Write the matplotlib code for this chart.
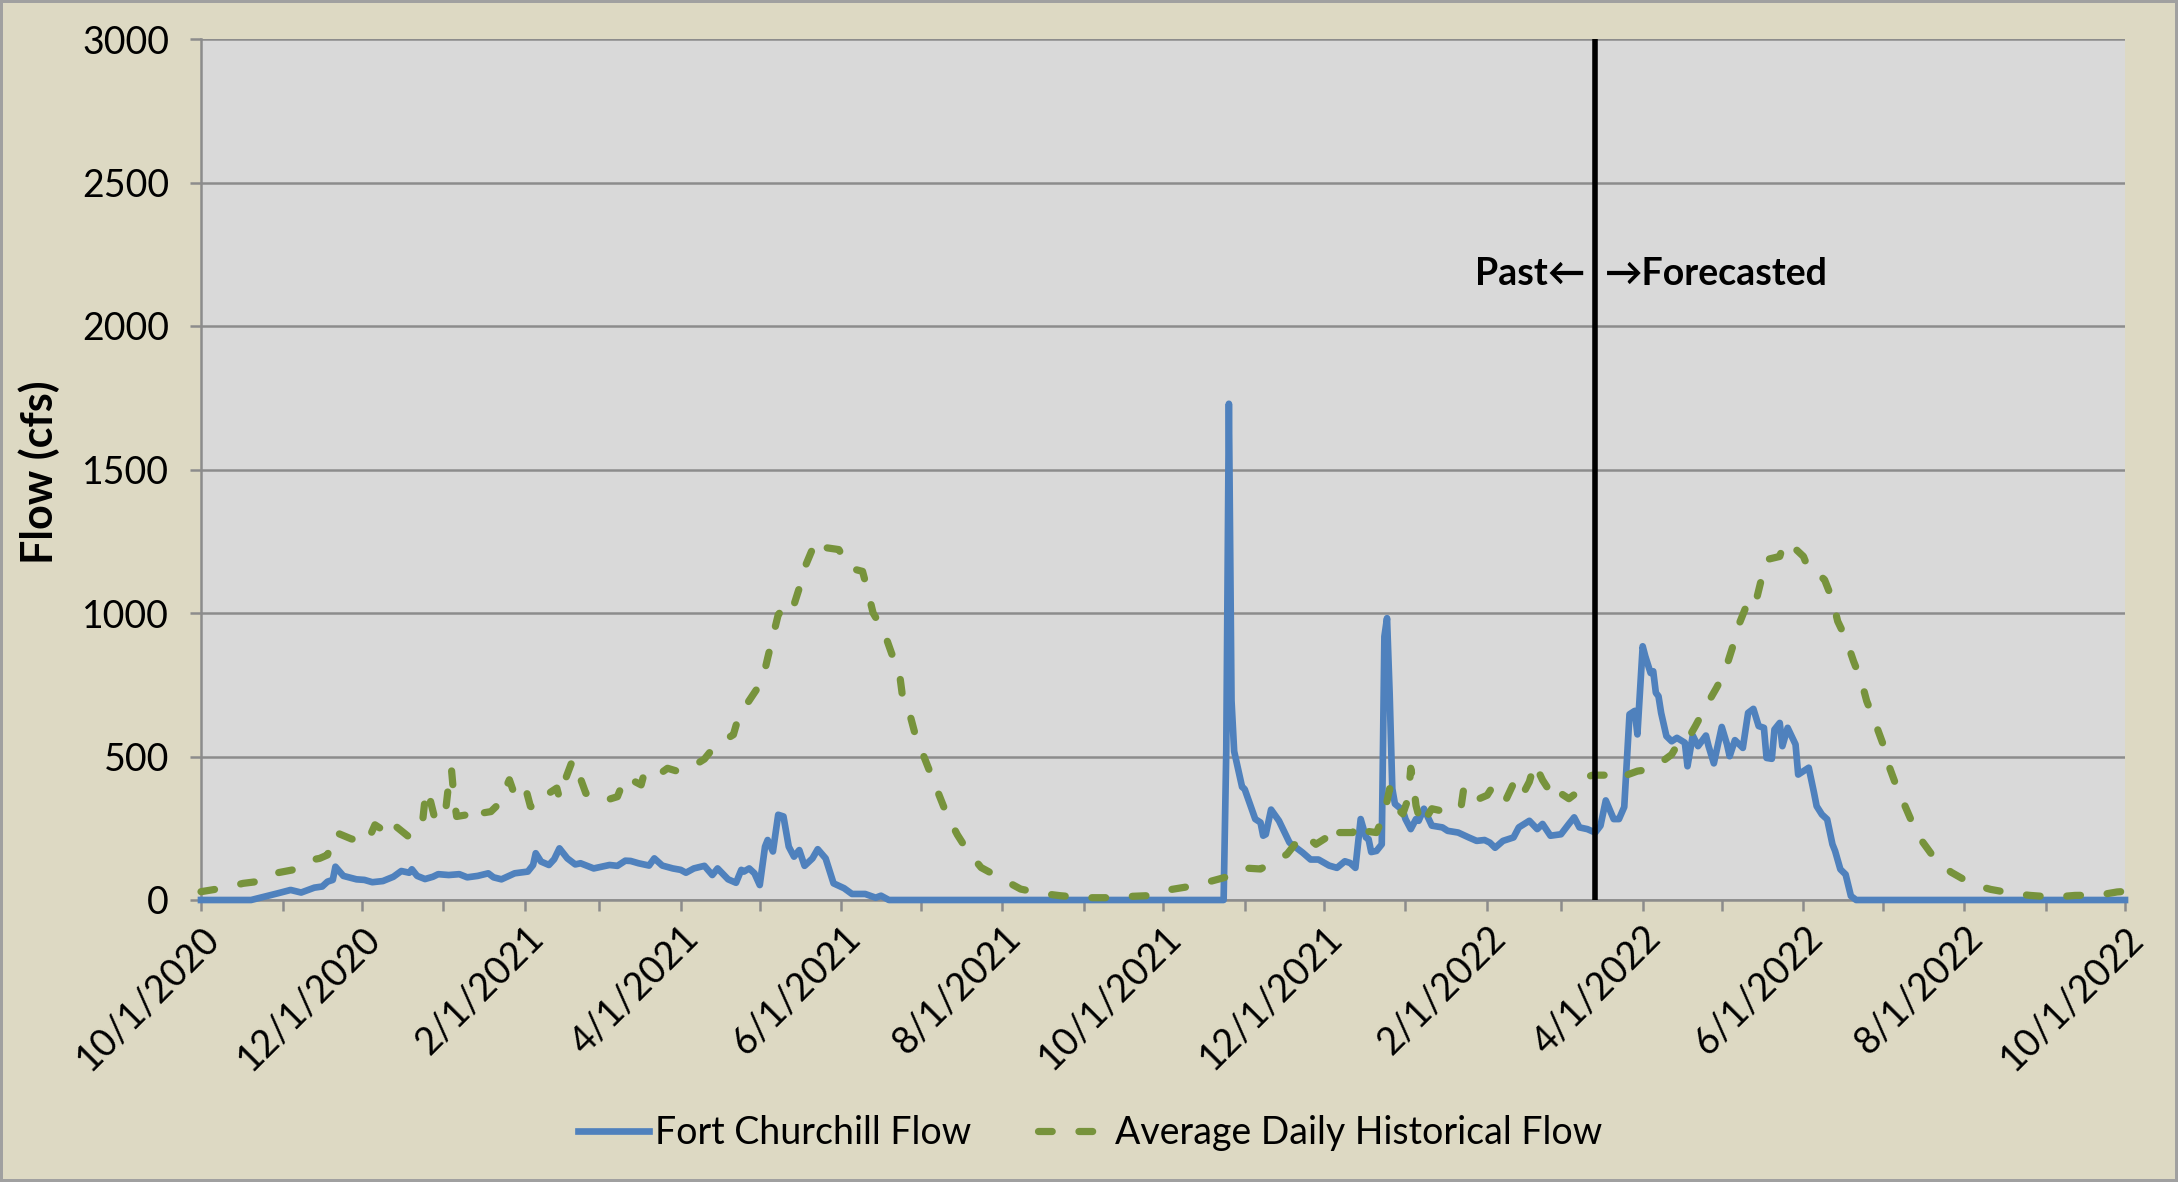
import matplotlib
matplotlib.use('Agg')
import matplotlib.pyplot as plt
import matplotlib.dates as mdates
import pandas as pd
from matplotlib.ticker import MultipleLocator, FuncFormatter

plt.rcParams['font.family'] = ['Lato', 'DejaVu Sans']

start = pd.Timestamp('2020-10-01')
end = pd.Timestamp('2022-10-01')
split_day = 529  # 3/14/2022, past / forecast split

# Fort Churchill flow: days after 10/1/2020, cfs
churchill_day = [0, 19, 29, 34, 38, 43, 46, 48, 50, 51, 54, 59, 62, 65, 69, 73, 76, 79, 80, 82,
                 85, 88, 90, 94, 98, 101, 105, 109, 111, 114, 119, 124, 126, 127, 129, 132, 134, 136, 139, 142,
                 144, 149, 155, 158, 161, 163, 166, 170, 172, 175, 179, 182, 184, 187, 191, 194, 196, 200, 203, 205,
                 206, 208, 210, 212, 214, 215, 217, 219, 221, 223, 225, 227, 229, 232, 234, 237, 240, 244, 247, 252,
                 256, 258, 261, 388, 389, 390, 391, 392, 395, 396, 400, 402, 403, 404, 406, 409, 413, 418, 421, 424,
                 428, 431, 434, 436, 438, 440, 442, 443, 444, 446, 448, 449, 450, 451, 452, 453, 456, 457, 459, 461,
                 462, 464, 467, 471, 473, 477, 481, 484, 487, 489, 491, 494, 498, 500, 504, 507, 509, 512, 516, 519,
                 521, 523, 526, 529, 531, 533, 536, 538, 540, 542, 544, 545, 547, 548, 550, 551, 552, 553, 554, 556,
                 558, 560, 563, 564, 566, 568, 571, 572, 574, 577, 579, 580, 582, 585, 587, 589, 591, 593, 594, 596,
                 597, 599, 600, 602, 605, 606, 608, 610, 612, 613, 615, 617, 619, 620, 622, 624, 626, 628, 730]
churchill_cfs = [0, 0, 23, 35, 26, 43, 47, 64, 70, 116, 84, 72, 70, 62, 66, 81, 101, 95, 107, 84,
                 73, 81, 90, 87, 90, 79, 84, 93, 79, 72, 93, 99, 122, 163, 134, 122, 142, 180, 145, 124,
                 128, 110, 122, 119, 137, 136, 128, 120, 145, 120, 110, 105, 95, 110, 119, 87, 110, 72, 60, 105,
                 99, 110, 93, 52, 186, 209, 169, 297, 291, 186, 151, 174, 119, 145, 177, 145, 58, 41, 21, 21,
                 8, 15, 0, 0, 518, 1729, 694, 518, 394, 386, 282, 270, 224, 229, 315, 276, 200, 165, 141, 141,
                 120, 112, 135, 129, 112, 282, 218, 212, 167, 171, 194, 918, 982, 718, 388, 335, 312, 282, 247, 282,
                 276, 318, 259, 253, 241, 235, 218, 206, 209, 200, 182, 206, 218, 253, 276, 247, 265, 224, 229, 265,
                 288, 253, 247, 235, 259, 347, 282, 282, 324, 647, 659, 577, 884, 849, 791, 797, 722, 710, 652, 571,
                 553, 565, 548, 466, 573, 536, 573, 536, 476, 603, 542, 501, 557, 530, 652, 666, 606, 600, 495, 492,
                 594, 617, 536, 600, 542, 437, 449, 461, 374, 327, 298, 281, 194, 171, 107, 89, 14, 0, 0]

# Average daily historical flow: days after 10/1/2020, cfs
hist_day = [0, 8, 16, 23, 28, 36, 42, 45, 48, 51, 57, 63, 66, 70, 72, 74, 79, 84, 85, 86,
            89, 92, 93, 94, 95, 96, 97, 101, 103, 106, 110, 113, 117, 119, 123, 125, 127, 132, 135, 136,
            137, 141, 143, 146, 150, 152, 158, 161, 167, 168, 171, 177, 181, 184, 191, 195, 202, 204, 209, 213,
            215, 217, 219, 221, 224, 227, 229, 232, 235, 236, 242, 246, 251, 253, 255, 259, 262, 265, 266, 269,
            271, 274, 277, 280, 283, 287, 291, 296, 304, 311, 319, 326, 335, 343, 351, 359, 367, 375, 383, 389,
            395, 402, 409, 412, 414, 418, 420, 423, 429, 431, 432, 437, 439, 441, 446, 449, 451, 452, 456, 458,
            459, 460, 461, 463, 467, 473, 478, 479, 482, 485, 488, 490, 491, 495, 498, 501, 504, 506, 509, 514,
            516, 519, 524, 526, 528, 533, 535, 539, 545, 548, 552, 558, 560, 563, 567, 571, 575, 578, 581, 583,
            586, 588, 590, 592, 594, 599, 600, 602, 608, 610, 612, 616, 619, 621, 624, 627, 630, 632, 635, 638,
            640, 643, 646, 649, 653, 658, 664, 672, 679, 688, 694, 703, 711, 720, 727, 730]
hist_cfs = [29, 41, 58, 66, 93, 107, 140, 145, 157, 236, 213, 200, 262, 238, 221, 256, 219, 267, 352, 384,
            273, 302, 326, 407, 459, 355, 291, 297, 326, 302, 308, 335, 419, 366, 395, 326, 320, 372, 390, 355,
            390, 488, 448, 372, 349, 343, 360, 430, 401, 436, 419, 459, 448, 451, 491, 537, 576, 640, 709, 764,
            843, 919, 994, 1017, 1000, 1087, 1157, 1223, 1198, 1229, 1221, 1157, 1145, 1076, 1000, 938, 860, 791, 721, 645,
            576, 506, 436, 366, 297, 227, 169, 113, 73, 38, 23, 15, 8, 8, 12, 15, 35, 47, 65, 80,
            112, 108, 144, 159, 182, 229, 218, 194, 229, 261, 235, 235, 271, 241, 235, 300, 388, 335, 300, 353,
            459, 406, 329, 259, 318, 306, 318, 382, 400, 353, 365, 394, 365, 347, 406, 359, 412, 476, 418, 347,
            371, 353, 388, 429, 435, 435, 418, 429, 449, 453, 466, 507, 538, 542, 606, 675, 739, 791, 878, 948,
            1017, 1000, 1041, 1116, 1186, 1197, 1226, 1249, 1197, 1151, 1148, 1116, 1046, 971, 913, 832, 762, 693, 623, 548,
            478, 403, 339, 275, 205, 142, 97, 55, 37, 22, 16, 10, 16, 17, 28, 30]

churchill_dates = start + pd.to_timedelta(churchill_day, unit='D')
hist_dates = start + pd.to_timedelta(hist_day, unit='D')
split_date = start + pd.Timedelta(days=split_day)

grid_gray = '#8C8C8C'

fig = plt.figure(figsize=(21.78, 11.82), dpi=100)
fig.patch.set_facecolor('#DDD9C3')
fig.patch.set_edgecolor('#A0A0A0')
fig.patch.set_linewidth(3)

ax = fig.add_axes([201/2178, 1-900/1182, 1924/2178, 861/1182])
ax.set_facecolor('#D9D9D9')

ax.plot(churchill_dates, churchill_cfs, color='#4F81BD', lw=4.8, solid_joinstyle='round',
        label='Fort Churchill Flow', zorder=3, clip_on=False)
ax.plot(hist_dates, hist_cfs, color='#77933C', lw=5.2, dashes=(1.9, 3.7), dash_capstyle='round',
        label='Average Daily Historical Flow', zorder=4, clip_on=False)
ax.axvline(split_date, color='black', lw=4, zorder=5)

ax.annotate('Past\u2190', xy=(split_date, 2180), xytext=(-7, 0), textcoords='offset points',
            ha='right', va='center', fontsize=27, fontweight='bold')
ax.annotate('\u2192Forecasted', xy=(split_date, 2180), xytext=(7, 0), textcoords='offset points',
            ha='left', va='center', fontsize=27, fontweight='bold')

ax.set_xlim(start, end)
ax.set_ylim(0, 3000)
ax.yaxis.set_major_locator(MultipleLocator(500))
ax.xaxis.set_major_locator(mdates.MonthLocator(bymonth=[2, 4, 6, 8, 10, 12]))
ax.xaxis.set_minor_locator(mdates.MonthLocator())
ax.xaxis.set_major_formatter(FuncFormatter(
    lambda v, pos: '{d.month}/{d.day}/{d.year}'.format(d=mdates.num2date(v))))

ax.yaxis.grid(True, color=grid_gray, lw=1.8)
ax.set_axisbelow(True)
for s in ['top', 'right']:
    ax.spines[s].set_visible(False)
for s in ['left', 'bottom']:
    ax.spines[s].set_color(grid_gray)
    ax.spines[s].set_linewidth(1.8)

ax.tick_params(axis='both', which='both', direction='out', length=8, width=1.8, color=grid_gray,
               labelsize=27)
ax.tick_params(axis='y', pad=15)
ax.tick_params(axis='x', pad=6)
plt.setp(ax.get_xticklabels(), rotation=45, ha='right', rotation_mode='anchor')

fig.text(39/2178, 1-472/1182, 'Flow (cfs)', rotation=90, ha='center', va='center',
         fontsize=31, fontweight='bold')

fig.legend(loc='center', bbox_to_anchor=(0.5005, 1-1133/1182), ncol=2, frameon=False,
           fontsize=27, handlelength=1.9, handletextpad=0.15, columnspacing=1.8)

plt.savefig('out.png', dpi=100, facecolor=fig.get_facecolor(), edgecolor=fig.get_edgecolor())
